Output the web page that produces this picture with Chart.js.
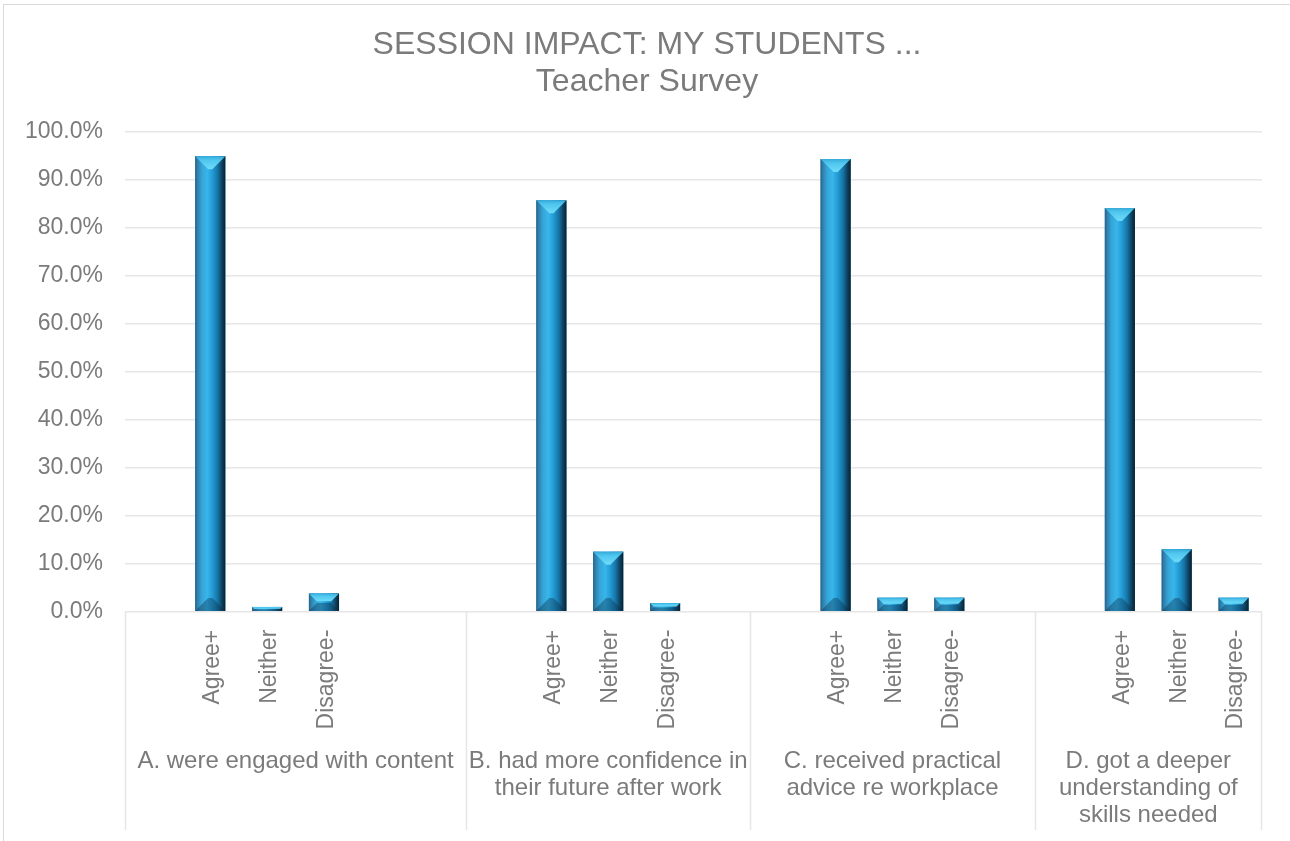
<!DOCTYPE html>
<html>
<head>
<meta charset="utf-8">
<script src="https://cdn.jsdelivr.net/npm/chart.js@4.4.1/dist/chart.umd.min.js"></script>
<style>
  html, body { margin: 0; padding: 0; background: #ffffff; }
  #wrap { width: 1290px; height: 841px; position: relative; }
</style>
</head>
<body>
<div id="wrap"><canvas id="c" width="1290" height="841"></canvas></div>
<script>
// ---------- DATA ----------
const titleLines = ['SESSION IMPACT: MY STUDENTS ...', 'Teacher Survey'];

// category rows of the sheet (blank rows included, as in the source table)
const categoryLabels = [
  '', 'Agree+', 'Neither', 'Disagree-', '', '',
  '', 'Agree+', 'Neither', 'Disagree-', '',
  '', 'Agree+', 'Neither', 'Disagree-', '',
  '', 'Agree+', 'Neither', 'Disagree-'
];

// percentage values per category row (null = blank row)
const seriesValues = [
  null, 94.9, 1.0, 3.8, null, null,
  null, 85.7, 12.5, 1.8, null,
  null, 94.3, 2.9, 2.9, null,
  null, 84.1, 13.0, 2.9
];

// outer (group) level of the category axis
const groupLabels = [
  ['A. were engaged with content'],
  ['B. had more confidence in', 'their future after work'],
  ['C. received practical', 'advice re workplace'],
  ['D. got a deeper', 'understanding of', 'skills needed']
];
const groupRowCounts = [6, 5, 5, 4];

const yTicks = [0, 10, 20, 30, 40, 50, 60, 70, 80, 90, 100];

// ---------- STYLE ----------
const FONT = "'Liberation Sans', Arial, Helvetica, sans-serif";
const TEXT = '#7b7b7b';
const GRID = '#e6e6e6';

const framePlugin = {
  id: 'frame',
  beforeDraw(chart) {
    const ctx = chart.ctx;
    ctx.save();
    ctx.fillStyle = '#ffffff';
    ctx.fillRect(0, 0, chart.width, chart.height);
    ctx.strokeStyle = '#d9d9d9';
    ctx.lineWidth = 1;
    ctx.strokeRect(3.5, 4.5, chart.width + 10, chart.height + 10);
    ctx.fillStyle = TEXT;
    ctx.font = '32px ' + FONT;
    ctx.textAlign = 'center';
    ctx.textBaseline = 'middle';
    titleLines.forEach((t, k) => ctx.fillText(t, chart.width / 2 + 2, 45 + k * 37));
    ctx.restore();
  }
};

const bevelPlugin = {
  id: 'bevel',
  afterDatasetsDraw(chart) {
    const ctx = chart.ctx;
    const meta = chart.getDatasetMeta(0);
    ctx.save();
    meta.data.forEach((el, i) => {
      if (seriesValues[i] == null) return;
      const p = el.getProps(['x', 'y', 'base', 'width'], true);
      const L = p.x - p.width / 2, R = p.x + p.width / 2;
      const T = Math.min(p.y, p.base), B = Math.max(p.y, p.base);
      const w = R - L, h = B - T;
      const g = ctx.createLinearGradient(L, 0, R, 0);
      g.addColorStop(0.00, '#2b5f80');
      g.addColorStop(0.07, '#2f7eab');
      g.addColorStop(0.22, '#35a5d8');
      g.addColorStop(0.40, '#38b6ea');
      g.addColorStop(0.58, '#2199d4');
      g.addColorStop(0.75, '#1673a3');
      g.addColorStop(0.90, '#0d3d5b');
      g.addColorStop(1.00, '#08212f');
      ctx.fillStyle = g;
      ctx.fillRect(L, T, w, h);
      const b = Math.min(13, w / 2, h * 0.45);
      const gt = ctx.createLinearGradient(0, T, 0, T + b);
      gt.addColorStop(0, '#35aad8');
      gt.addColorStop(0.3, '#4fc6ef');
      gt.addColorStop(1, '#6edcf8');
      ctx.fillStyle = gt;
      ctx.beginPath();
      ctx.moveTo(L, T); ctx.lineTo(R, T);
      ctx.lineTo(R - b, T + b); ctx.lineTo(L + b, T + b);
      ctx.closePath(); ctx.fill();
      ctx.fillStyle = 'rgba(10, 45, 70, 0.38)';
      ctx.beginPath();
      ctx.moveTo(L, B); ctx.lineTo(R, B);
      ctx.lineTo(R - b, B - b); ctx.lineTo(L + b, B - b);
      ctx.closePath(); ctx.fill();
    });
    ctx.restore();
  }
};

const groupAxisPlugin = {
  id: 'groupAxis',
  afterDraw(chart) {
    const xs = chart.scales.x;
    const ctx = chart.ctx;
    const area = chart.chartArea;
    const slot = xs.getPixelForValue(1) - xs.getPixelForValue(0);
    const lineBottom = chart.height - 11;
    ctx.save();
    ctx.strokeStyle = GRID;
    ctx.lineWidth = 1.5;
    ctx.fillStyle = TEXT;
    ctx.font = '24px ' + FONT;
    ctx.textAlign = 'center';
    ctx.textBaseline = 'middle';
    let start = 0;
    groupLabels.forEach((lines, gi) => {
      const left = xs.getPixelForValue(start) - slot / 2;
      const right = left + groupRowCounts[gi] * slot;
      ctx.beginPath();
      ctx.moveTo(Math.round(left) + 0.5, area.bottom);
      ctx.lineTo(Math.round(left) + 0.5, lineBottom);
      ctx.stroke();
      if (gi === groupLabels.length - 1) {
        ctx.beginPath();
        ctx.moveTo(Math.round(right) - 0.5, area.bottom);
        ctx.lineTo(Math.round(right) - 0.5, lineBottom);
        ctx.stroke();
      }
      const cx = (left + right) / 2;
      lines.forEach((t, k) => {
        ctx.fillText(t, cx, area.bottom + 150 + k * 27);
      });
      start += groupRowCounts[gi];
    });
    ctx.restore();
  }
};

new Chart(document.getElementById('c'), {
  type: 'bar',
  data: {
    labels: categoryLabels,
    datasets: [{
      data: seriesValues,
      backgroundColor: '#1a8fca',
      borderWidth: 0,
      barPercentage: 0.53,
      categoryPercentage: 1.0
    }]
  },
  options: {
    responsive: false,
    animation: false,
    devicePixelRatio: 1,
    layout: { padding: { left: 0, right: 28, top: 131.7, bottom: 0 } },
    plugins: {
      legend: { display: false },
      tooltip: { enabled: false },
      title: { display: false }
    },
    scales: {
      x: {
        grid: { display: false, drawTicks: false },
        border: { display: false },
        ticks: {
          autoSkip: false,
          maxRotation: 90,
          minRotation: 90,
          padding: 18,
          labelOffset: 2.5,
          color: TEXT,
          font: { family: FONT, size: 23 }
        },
        afterFit(scale) { scale.height = 229.3; }
      },
      y: {
        min: 0,
        max: 100,
        afterBuildTicks(scale) { scale.ticks = yTicks.map(v => ({ value: v })); },
        grid: { color: GRID, lineWidth: 1.5, drawTicks: false },
        border: { display: false },
        ticks: {
          padding: 22,
          color: TEXT,
          font: { family: FONT, size: 23 },
          callback: v => v.toFixed(1) + '%'
        },
        afterFit(scale) { scale.width = 125; }
      }
    }
  },
  plugins: [framePlugin, bevelPlugin, groupAxisPlugin]
});
</script>
</body>
</html>
